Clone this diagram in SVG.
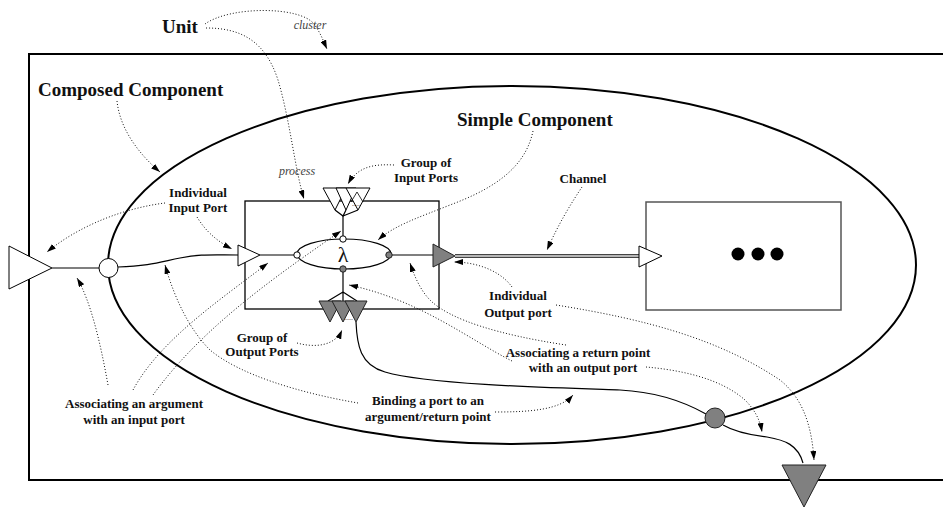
<svg xmlns="http://www.w3.org/2000/svg" width="943" height="508" viewBox="0 0 943 508">
<style>
.lbl{font-family:"Liberation Serif","Times New Roman",serif;font-weight:bold;fill:#111}
.big{font-size:19px}
.sm{font-size:13px;text-anchor:middle}
.it{font-family:"Liberation Serif","Times New Roman",serif;font-style:italic;font-size:12px;fill:#444}
.dot{fill:none;stroke:#111;stroke-width:1;stroke-dasharray:1 2}
.thin{fill:none;stroke:#000;stroke-width:1.2}
.gray{fill:#808080;stroke:#222;stroke-width:1}
.white{fill:#fff;stroke:#000;stroke-width:1}
</style>
<defs>
<marker id="ah" markerWidth="9" markerHeight="6" refX="9" refY="3" orient="auto" markerUnits="userSpaceOnUse"><path d="M0,0 L9,3 L0,6 z" fill="#000"/></marker>
</defs>
<rect width="943" height="508" fill="#fff"/>

<g id="unit">
<path d="M960,54 H29 V480 H960" fill="none" stroke="#000" stroke-width="2"/>
<text class="lbl big" x="180" y="33" text-anchor="middle">Unit</text>
<text class="it" x="310" y="29" text-anchor="middle">cluster</text>
</g>

<g id="composed">
<ellipse cx="512" cy="265" rx="404" ry="179" fill="none" stroke="#000" stroke-width="2"/>
<text class="lbl big" x="38" y="96">Composed Component</text>
</g>

<g id="connectors">
<path d="M52,268 H99" stroke="#555" stroke-width="1.5" fill="none"/>
<path d="M118,267 C150,266 160,262 180,258 C200,254 210,255 238,255" class="thin"/>
<path d="M260,255 H294" class="thin"/>
<path d="M392,255 H433" class="thin"/>
<path d="M343,236 V216" class="thin"/>
<path d="M343,272 V292" class="thin"/>
<path d="M455,256 H640" stroke="#444" stroke-width="4" fill="none"/>
<path d="M455,256 H640" stroke="#ddd" stroke-width="1.4" fill="none"/>
<path d="M356,322 C357,345 360,365 385,372 C430,385 560,388 620,390 C660,392 690,405 706,414" class="thin"/>
<path d="M723,425 C735,432 750,435 767,437 C785,440 798,445 803,463" class="thin"/>
</g>

<g id="ext-in-port">
<polygon points="9,246 9,289 52,268" class="white" stroke-width="1.2"/>
</g>
<g id="arg-point">
<circle cx="108.5" cy="268" r="9.5" class="white" stroke-width="1.2"/>
</g>

<g id="simple">
<rect x="245" y="201" width="194" height="108" fill="none" stroke="#000" stroke-width="1.3"/>
<text class="lbl big" x="457" y="126">Simple Component</text>
<text class="it" x="297" y="175" text-anchor="middle">process</text>
<ellipse cx="344" cy="254" rx="47" ry="15" fill="#fff" stroke="#000" stroke-width="1.2"/>
<text x="343" y="262" font-family="Liberation Serif,serif" font-size="22" text-anchor="middle" fill="#111">λ</text>
<circle cx="297" cy="255" r="3.2" class="white"/>
<circle cx="343" cy="239" r="3.2" class="white"/>
<circle cx="389" cy="255" r="3.2" class="gray"/>
<circle cx="343" cy="269" r="3.2" class="gray"/>
</g>

<g id="in-port">
<polygon points="238,245 238,266 260,255" class="white"/>
</g>
<g id="out-port">
<polygon points="433,244 433,267 455,256" class="gray"/>
</g>

<g id="group-in">
<path d="M335,210 L343,216 L346,210 M358,210 L343,216" class="thin" stroke-width="1"/>
<polygon points="323,188 346,188 335,210" class="white"/>
<polygon points="336,188 356,188 346,210" class="white"/>
<polygon points="346,188 370,188 358,210" class="white"/>
<path d="M351,202 L357,192 L363,202" fill="none" stroke="#000" stroke-width="0.8"/>
<text x="356" y="206" font-family="Liberation Sans,sans-serif" font-size="7" text-anchor="middle" fill="#000">....</text>
</g>

<g id="group-out">
<path d="M343,292 L328,301 M343,292 L343,301 M343,292 L357,301" class="thin" stroke-width="1"/>
<polygon points="319,301 341,301 330,322" class="gray"/>
<polygon points="332,301 354,301 343,322" class="gray"/>
<polygon points="345,301 367,301 356,322" class="gray"/>
<text x="349" y="320" font-family="Liberation Sans,sans-serif" font-size="7" text-anchor="middle" fill="#000">....</text>
</g>

<g id="other-component">
<rect x="646" y="202" width="195" height="108" fill="none" stroke="#555" stroke-width="1.5"/>
<polygon points="639,246 639,267 662,256" class="white"/>
<circle cx="738" cy="254" r="6.5" fill="#000"/>
<circle cx="758" cy="254" r="6.5" fill="#000"/>
<circle cx="777" cy="254" r="6.5" fill="#000"/>
</g>

<g id="return-point">
<circle cx="715" cy="418" r="10" class="gray" stroke-width="1.2"/>
</g>
<g id="ext-out-port">
<polygon points="782,465 826,465 804,507" class="gray" stroke-width="1.2"/>
</g>

<g id="labels">
<text class="lbl sm" x="426" y="167">Group of</text>
<text class="lbl sm" x="426" y="182">Input Ports</text>
<text class="lbl sm" x="583" y="183">Channel</text>
<text class="lbl sm" x="198" y="197">Individual</text>
<text class="lbl sm" x="198" y="212">Input Port</text>
<text class="lbl sm" x="518" y="300">Individual</text>
<text class="lbl sm" x="518" y="317">Output port</text>
<text class="lbl sm" x="262" y="342">Group of</text>
<text class="lbl sm" x="262" y="356">Output Ports</text>
<text class="lbl sm" x="134" y="408">Associating an argument</text>
<text class="lbl sm" x="134" y="424">with an input port</text>
<text class="lbl sm" x="428" y="405">Binding a port to an</text>
<text class="lbl sm" x="428" y="421">argument/return point</text>
<text class="lbl sm" x="578" y="357">Associating a return point</text>
<text class="lbl sm" x="583" y="372">with an output port</text>
</g>

<g id="annotations">
<path class="dot" marker-end="url(#ah)" d="M205,24 C230,6 300,6 314,24 C320,32 323,40 327,49"/>
<path class="dot" marker-end="url(#ah)" d="M206,28 C240,28 265,40 278,80 C290,120 295,170 304,199"/>
<path class="dot" marker-end="url(#ah)" d="M117,101 C120,130 140,155 160,172"/>
<path class="dot" marker-end="url(#ah)" d="M533,131 C525,170 490,190 450,205 C420,217 395,225 378,240"/>
<path class="dot" marker-end="url(#ah)" d="M394,165 C375,164 358,166 348,184"/>
<path class="dot" marker-end="url(#ah)" d="M582,187 C570,205 558,225 547,250"/>
<path class="dot" marker-end="url(#ah)" d="M197,217 C205,230 215,240 232,249"/>
<path class="dot" marker-end="url(#ah)" d="M165,203 C125,208 80,225 47,252"/>
<path class="dot" marker-end="url(#ah)" d="M297,343 C315,348 335,346 342,330"/>
<path class="dot" marker-end="url(#ah)" d="M512,287 C500,270 475,262 454,262"/>
<path class="dot" marker-end="url(#ah)" d="M556,305 C650,320 720,340 780,380 C805,400 812,430 814,460"/>
<path class="dot" marker-end="url(#ah)" d="M646,367 C680,370 720,378 745,400 C755,410 760,420 762,432"/>
<path class="dot" marker-end="url(#ah)" d="M566,345 C500,335 450,320 430,300 C420,290 414,275 410,263"/>
<path class="dot" marker-end="url(#ah)" d="M512,361 C470,340 420,300 349,285"/>
<path class="dot" marker-end="url(#ah)" d="M358,403 C300,393 240,375 210,350 C190,330 175,300 165,265"/>
<path class="dot" marker-end="url(#ah)" d="M495,412 C530,412 560,410 573,395"/>
<path class="dot" marker-end="url(#ah)" d="M108,385 C100,340 90,300 77,278"/>
<path class="dot" marker-end="url(#ah)" d="M133,390 C160,340 220,300 268,263"/>
<path class="dot" marker-end="url(#ah)" d="M153,395 C200,330 270,280 341,231"/>
</g>
</svg>
